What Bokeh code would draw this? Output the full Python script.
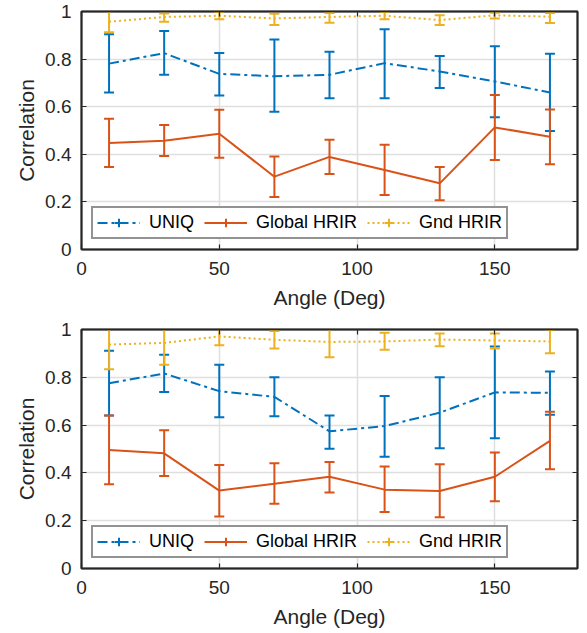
from bokeh.plotting import figure
from bokeh.layouts import column
from bokeh.models import (ColumnDataSource, FixedTicker, CustomJSTickFormatter, LinearAxis,
                          Legend, LegendItem, Range1d, Label)
from bokeh.embed import file_html
from bokeh.resources import INLINE

angles = [10, 30, 50, 70, 90, 110, 130, 150, 170]
series_names = ["UNIQ", "Global HRIR", "Gnd HRIR"]
x_ticks = [0, 50, 100, 150]
y_ticks = [0, 0.2, 0.4, 0.6, 0.8, 1.0]

# ---- top panel ----
top_uniq = [0.781, 0.825, 0.738, 0.728, 0.734, 0.783, 0.748, 0.706, 0.660]
top_uniq_lo = [0.660, 0.734, 0.647, 0.579, 0.636, 0.636, 0.679, 0.556, 0.498]
top_uniq_hi = [0.904, 0.918, 0.826, 0.882, 0.831, 0.925, 0.813, 0.854, 0.823]
top_glob = [0.447, 0.457, 0.486, 0.306, 0.389, 0.334, 0.278, 0.513, 0.474]
top_glob_lo = [0.347, 0.393, 0.386, 0.221, 0.317, 0.229, 0.207, 0.376, 0.358]
top_glob_hi = [0.549, 0.523, 0.587, 0.391, 0.461, 0.440, 0.347, 0.649, 0.588]
top_gnd = [0.957, 0.977, 0.982, 0.971, 0.977, 0.982, 0.964, 0.984, 0.978]
top_gnd_lo = [0.913, 0.957, 0.967, 0.943, 0.953, 0.967, 0.943, 0.971, 0.952]
top_gnd_hi = [1.001, 0.992, 0.998, 0.991, 0.994, 0.998, 0.984, 0.995, 0.994]

# ---- bottom panel ----
bot_uniq = [0.775, 0.816, 0.742, 0.718, 0.574, 0.596, 0.652, 0.737, 0.735]
bot_uniq_lo = [0.640, 0.739, 0.633, 0.637, 0.501, 0.468, 0.503, 0.545, 0.643]
bot_uniq_hi = [0.911, 0.894, 0.852, 0.800, 0.640, 0.722, 0.800, 0.929, 0.824]
bot_glob = [0.496, 0.482, 0.326, 0.355, 0.384, 0.330, 0.324, 0.384, 0.534]
bot_glob_lo = [0.352, 0.387, 0.218, 0.271, 0.318, 0.236, 0.214, 0.281, 0.415]
bot_glob_hi = [0.640, 0.578, 0.433, 0.440, 0.446, 0.427, 0.436, 0.485, 0.656]
bot_gnd = [0.937, 0.944, 0.971, 0.957, 0.948, 0.950, 0.958, 0.954, 0.950]
bot_gnd_lo = [0.834, 0.852, 0.934, 0.920, 0.884, 0.915, 0.930, 0.920, 0.901]
bot_gnd_hi = [1.040, 1.036, 1.008, 0.994, 1.012, 0.986, 0.983, 0.983, 0.999]

COLORS = ["#0072BD", "#D95319", "#EDB120"]
DASHES = ["10 4 3 4", "solid", "2 3"]
FONT = "Liberation Sans"
AX = "#262626"


def style_axis(ax):
    ax.axis_line_color = AX
    ax.axis_line_width = 1.5
    ax.major_tick_line_color = AX
    ax.major_tick_line_width = 1.2
    ax.major_tick_in = 5
    ax.major_tick_out = 0
    ax.minor_tick_line_color = None
    ax.major_label_text_font = FONT
    ax.major_label_text_color = AX
    ax.axis_label_text_font = FONT
    ax.axis_label_text_color = AX
    ax.axis_label_text_font_style = "normal"


def make_fig(data, left, width, height, top, bottom, right):
    p = figure(width=width, height=height, x_range=Range1d(0, 180), y_range=Range1d(0, 1),
               output_backend="svg", toolbar_location=None,
               min_border_left=left, min_border_right=right,
               min_border_top=top, min_border_bottom=bottom)
    p.outline_line_color = AX
    p.outline_line_width = 2
    p.background_fill_color = "white"
    p.border_fill_color = "white"

    p.xaxis.ticker = FixedTicker(ticks=x_ticks)
    p.yaxis.ticker = FixedTicker(ticks=y_ticks)
    p.yaxis.formatter = CustomJSTickFormatter(code="return String(Math.round(tick*10)/10)")
    for ax in p.xaxis + p.yaxis:
        style_axis(ax)
        ax.major_label_text_font_size = "19px"
        ax.axis_label_text_font_size = "21px"
    p.xaxis.axis_label = "Angle (Deg)"
    p.yaxis.axis_label = "Correlation"
    p.xaxis.major_label_standoff = 12
    p.yaxis.major_label_standoff = 10
    p.xaxis.axis_label_standoff = 8
    p.yaxis.axis_label_standoff = 4

    # box ticks on right and top
    blank = CustomJSTickFormatter(code="return ''")
    ra = LinearAxis(ticker=FixedTicker(ticks=y_ticks), formatter=blank)
    ta = LinearAxis(ticker=FixedTicker(ticks=x_ticks), formatter=blank)
    for ax in (ra, ta):
        style_axis(ax)
        ax.major_label_standoff = 0
        ax.major_label_text_font_size = "1px"
    p.add_layout(ra, "right")
    p.add_layout(ta, "above")

    p.xgrid.ticker = FixedTicker(ticks=x_ticks)
    p.ygrid.ticker = FixedTicker(ticks=y_ticks)
    p.grid.grid_line_color = "#DFDFDF"
    p.grid.grid_line_width = 1.5

    items = []
    for name, color, dash, (y, lo, hi) in zip(series_names, COLORS, DASHES, data):
        src = ColumnDataSource(dict(x=angles, y=y, lo=lo, hi=hi))
        r_line = p.line("x", "y", source=src, line_color=color, line_width=2, line_dash=dash)
        p.segment(x0="x", y0="lo", x1="x", y1="hi", source=src, line_color=color, line_width=2)
        p.scatter("x", "lo", source=src, marker="dash", size=10, line_color=color, line_width=2)
        p.scatter("x", "hi", source=src, marker="dash", size=10, line_color=color, line_width=2)
        r_leg = p.scatter("x", "y", source=src, marker="cross", size=12, line_color=color,
                          line_width=2, visible=False)
        items.append(LegendItem(label=name, renderers=[r_line, r_leg]))

    leg = Legend(items=items, orientation="horizontal", location="bottom_left")
    leg.label_text_font = FONT
    leg.label_text_font_size = "18px"
    leg.label_text_color = "#000000"
    leg.border_line_color = AX
    leg.border_line_width = 2
    leg.background_fill_color = "white"
    leg.background_fill_alpha = 1
    leg.padding = 4
    leg.spacing = 10
    leg.margin = 10
    leg.glyph_width = 43
    leg.glyph_height = 21
    leg.label_height = 21
    leg.label_standoff = 9
    p.add_layout(leg)
    return p


p1 = make_fig([(top_uniq, top_uniq_lo, top_uniq_hi),
               (top_glob, top_glob_lo, top_glob_hi),
               (top_gnd, top_gnd_lo, top_gnd_hi)],
              left=81, width=587, height=318, top=11, bottom=69, right=1)
p1.add_layout(Label(x=-26.4, y=-0.268, text=".", text_font=FONT, text_font_size="14px",
                    text_color="#000000"))
p2 = make_fig([(bot_uniq, bot_uniq_lo, bot_uniq_hi),
               (bot_glob, bot_glob_lo, bot_glob_hi),
               (bot_gnd, bot_gnd_lo, bot_gnd_hi)],
              left=72, width=587, height=315, top=11, bottom=65, right=10)

layout = column(p1, p2, spacing=0)
open("out.html", "w").write(file_html(layout, INLINE))
